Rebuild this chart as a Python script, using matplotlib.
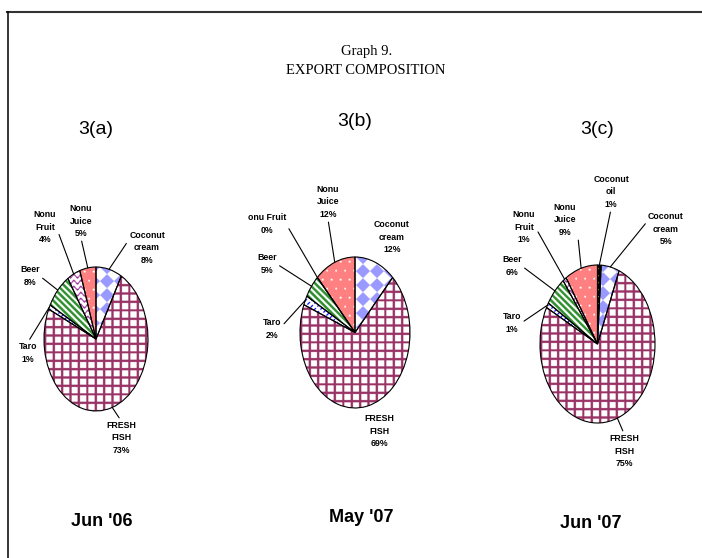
import numpy as np
import matplotlib
matplotlib.use('Agg')
import matplotlib.pyplot as plt
from matplotlib.colors import to_rgb
from matplotlib.lines import Line2D

W, H = 702, 558

# export shares in %, clockwise from 12 o'clock
cats_a = ['Coconut\ncream', 'FRESH\nFISH', 'Taro', 'Beer', 'Nonu\nFruit', 'Nonu\nJuice']
vals_a = [8, 73, 1, 8, 4, 5]
cats_b = ['Coconut\ncream', 'FRESH\nFISH', 'Taro', 'Beer', 'onu Fruit', 'Nonu\nJuice']
vals_b = [12, 69, 2, 5, 0, 12]
cats_c = ['Coconut\noil', 'Coconut\ncream', 'FRESH\nFISH', 'Taro', 'Beer', 'Nonu\nFruit', 'Nonu\nJuice']
vals_c = [1, 5, 75, 1, 6, 1, 9]
panels = ['3(a)', '3(b)', '3(c)']
periods = ["Jun '06", "May '07", "Jun '07"]

# fill pattern for each product
patterns = {'Coconut oil': 'oil', 'Coconut cream': 'diamond', 'FRESH FISH': 'grid',
            'Taro': 'taro', 'Beer': 'stripe', 'Nonu Fruit': 'wave', 'onu Fruit': 'wave',
            'Nonu Juice': 'dots'}

SANS = ['Liberation Sans Narrow', 'Liberation Sans', 'DejaVu Sans']


def texture(kind, w, h, s=3):
    yy, xx = np.mgrid[0:h * s, 0:w * s] / s
    img = np.ones((h * s, w * s, 3))

    def paint(mask, col):
        img[mask] = to_rgb(col)

    if kind == 'grid':
        paint((xx % 8.4 < 2.3) | (yy % 8.4 < 2.3), '#993366')
    elif kind == 'diamond':
        u = np.floor((xx + yy) / 14.0)
        v = np.floor((xx - yy) / 14.0)
        paint((u + v) % 2 == 0, '#9999ff')
    elif kind == 'dots':
        img[:] = to_rgb('#ff8080')
        shift = (np.floor(yy / 9) % 2) * 4.5
        d = ((xx + shift) % 9 - 4.5) ** 2 + (yy % 9 - 4.5) ** 2
        paint(d < 1.0, 'white')
    elif kind == 'stripe':
        paint((xx - yy) % 6.5 < 3.5, '#2f8f2f')
    elif kind == 'wave':
        paint(np.abs((yy + 1.6 * np.sin(xx * 2 * np.pi / 7)) % 6 - 3) < 0.9, '#993399')
    elif kind == 'taro':
        paint(((xx + yy) % 6 < 1.6) & ((xx - yy) % 8 < 5), '#0000ff')
    elif kind == 'oil':
        img[:] = 0
        d = (xx % 5 - 2.5) ** 2 + (yy % 7 - 3.5) ** 2
        paint(d < 0.9, '#ffff00')
    return img


fig = plt.figure(figsize=(W / 100, H / 100), dpi=100)

# frame
fig.add_artist(Line2D([7 / W, 1], [1 - 12 / H] * 2, transform=fig.transFigure,
                      color='#333333', lw=1.5))
fig.add_artist(Line2D([7.5 / W] * 2, [1 - 12 / H, 0], transform=fig.transFigure,
                      color='black', lw=1.1))

fig.text(367 / W, 1 - 52 / H, 'Graph 9.', ha='center', va='center',
         family='Liberation Serif', fontsize=10.5)
fig.text(366 / W, 1 - 71 / H, 'EXPORT COMPOSITION', ha='center', va='center',
         family='Liberation Serif', fontsize=10.5)

lbl = dict(ha='center', va='center', fontsize=6.3, fontweight='bold',
           family=SANS, linespacing=1.55)


def draw_pie(box, cats, vals, layout, panel, period, panel_y, period_xy):
    x0, y0, x1, y1 = box
    ax = fig.add_axes([x0 / W, 1 - y1 / H, (x1 - x0) / W, (y1 - y0) / H])
    wedges, _ = ax.pie(vals, startangle=90, counterclock=False, radius=1,
                       wedgeprops=dict(facecolor='none', edgecolor='black', linewidth=0.8))
    w, h = x1 - x0, y1 - y0
    for wd, name, val, lp in zip(wedges, cats, vals, layout):
        wd.set_clip_on(False)
        wd.set_zorder(3)
        im = ax.imshow(texture(patterns[name.replace('\n', ' ')], w, h),
                       extent=(-1, 1, -1, 1), aspect='auto', zorder=1,
                       interpolation='antialiased')
        im.set_clip_path(wd)
        mid = np.deg2rad((wd.theta1 + wd.theta2) / 2)
        lx, ly, rel = lp
        arrow = None
        if rel is not None:
            arrow = dict(arrowstyle='-', color='black', lw=0.8, relpos=rel,
                         shrinkA=0, shrinkB=0)
        ax.annotate(f'{name}\n{val}%', xy=(np.cos(mid), np.sin(mid)),
                    xytext=(lx, H - ly), textcoords='figure pixels',
                    arrowprops=arrow, annotation_clip=False, **lbl)
    ax.set_aspect('auto')
    ax.set_xlim(-1, 1)
    ax.set_ylim(-1, 1)
    ax.axis('off')

    cx = (x0 + x1) / 2
    fig.text(cx / W, 1 - panel_y / H, panel, ha='center', va='center',
             family=SANS, fontsize=14)
    fig.text(period_xy[0] / W, 1 - period_xy[1] / H, period, ha='center', va='center',
             family='Liberation Sans', fontweight='bold', fontsize=13)


# label centre (px from top-left) and leader start on the text box
layout_a = [(147, 248, (0, 0.75)), (121, 438, (0.5, 1)), (28, 353, (0.5, 1)),
            (30, 276, (1, 0.5)), (45, 227, (1, 0.5)), (81, 221, (0.5, 0))]
layout_b = [(392, 237, None), (379, 431, None), (272, 329, (1, 0.6)),
            (267, 264, (1, 0.5)), (267, 224, (1, 0.5)), (328, 202, (0.5, 0))]
layout_c = [(611, 192, (0.5, 0)), (666, 229, (0, 0.75)), (624, 451, (0.5, 1)),
            (512, 323, (1, 0.5)), (512, 266, (1, 0.5)), (524, 227, (1, 0.5)),
            (565, 220, (1, 0.5))]

draw_pie((44, 267, 148, 411), cats_a, vals_a, layout_a, panels[0], periods[0], 129, (102, 522))
draw_pie((300, 257, 410, 408), cats_b, vals_b, layout_b, panels[1], periods[1], 121, (361, 518))
draw_pie((540, 265, 655, 423), cats_c, vals_c, layout_c, panels[2], periods[2], 130, (591, 523))

fig.savefig('out.png', dpi=100)
